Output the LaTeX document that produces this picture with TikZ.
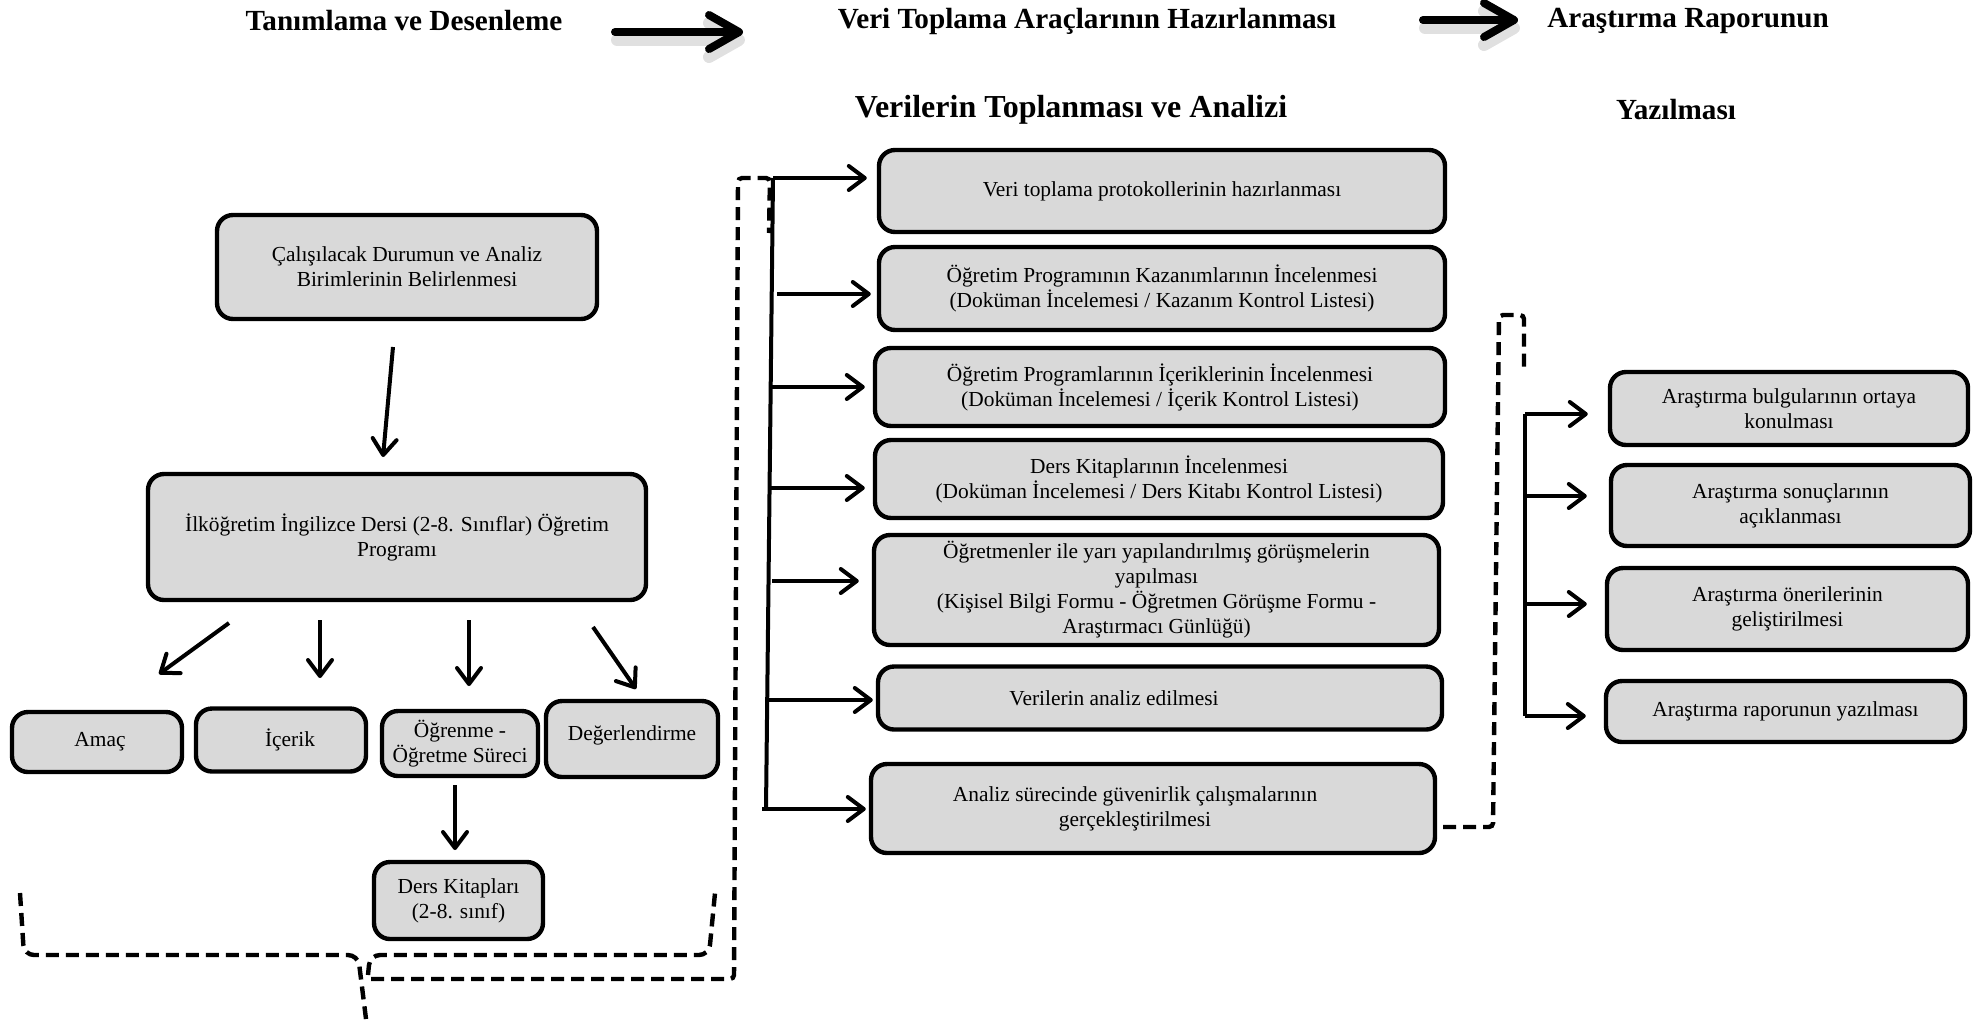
\documentclass[tikz,border=0pt]{standalone}
\usepackage{fontspec}
\setmainfont{Liberation Serif}
\usetikzlibrary{arrows.meta}
\definecolor{boxfill}{RGB}{217,217,217}
\begin{document}
\begin{tikzpicture}[x=0.5pt,y=-0.5pt,
  box/.style={draw=black, fill=boxfill, line width=2.2pt, rounded corners=8pt, align=center, inner sep=1pt, font=\fontsize{10.7}{12.5}\selectfont},
  hdr/.style={font=\fontsize{14.6}{17}\selectfont\bfseries, inner sep=0pt},
  link/.style={line width=2pt, -{Straight Barb[length=8pt,width=12pt,round]}},
  bigarrow/.style={line width=4pt, line cap=round, -{Straight Barb[length=15pt,width=17pt,round]}},
  bigshadow/.style={line width=6pt, line cap=round, draw=black!12, -{Straight Barb[length=15pt,width=17pt,round]}},
  dashline/.style={line width=2.2pt, dash pattern=on 6.5pt off 3.5pt},
  trunk/.style={line width=2pt}
]
\useasboundingbox (0,0) rectangle (1981,1019);

% ---------- headers ----------
\node[hdr] (h1) at (404,21) {Tanımlama ve Desenleme};
\node[hdr] (h2) at (1087,21) {Veri Toplama Araçlarının Hazırlanması};
\node[hdr] (h3) at (1688,21) {Araştırma Raporunun};
\node[hdr, font=\fontsize{16}{19}\selectfont\bfseries] (h4) at (1071,110) {Verilerin Toplanması ve Analizi};
\node[hdr] (h5) at (1676,110) {Yazılması};

\coordinate (ha1s) at (615,32);
\coordinate (ha1e) at (743,32);
\coordinate (ha2s) at (1423,20);
\coordinate (ha2e) at (1518,20);
\draw[bigshadow] ([xshift=1pt,yshift=-4pt]ha1s) -- ([xshift=1pt,yshift=-4pt]ha1e);
\draw[bigshadow] ([xshift=1pt,yshift=-4pt]ha2s) -- ([xshift=1pt,yshift=-4pt]ha2e);
\draw[bigarrow] (ha1s) -- (ha1e);
\draw[bigarrow] (ha2s) -- (ha2e);

% ---------- left column ----------
\node[box, minimum width=190pt, minimum height=52pt] (A) at (407,267)
  {Çalışılacak Durumun ve Analiz\\Birimlerinin Belirlenmesi};
\node[box, minimum width=249pt, minimum height=63pt] (B) at (397,537)
  {İlköğretim İngilizce Dersi (2-8. Sınıflar) Öğretim\\Programı};
\node[box, minimum width=85pt, minimum height=30pt] (amac) at (97,742)
  {\hspace*{3pt}Amaç};
\node[box, minimum width=85pt, minimum height=31.5pt] (icerik) at (281,740)
  {\hspace*{9pt}İçerik};
\node[box, minimum width=78pt, minimum height=32.5pt] (ogrenme) at (460,743.5)
  {Öğrenme -\\Öğretme Süreci};
\node[box, minimum width=86pt, minimum height=38pt] (deger) at (632,739)
  {\raisebox{6pt}{Değerlendirme}};
\node[box, minimum width=84.5pt, minimum height=38.5pt] (ders) at (458.5,900.5)
  {Ders Kitapları\\(2-8. sınıf)};

\coordinate (ab1) at (393,347);
\coordinate (ab2) at (383,457);
\draw[link] (ab1) -- (ab2);
\coordinate (b1) at (229,623);
\coordinate (b1e) at (159,674);
\coordinate (b2) at (320,620);
\coordinate (b2e) at (320,678);
\coordinate (b3) at (469,620);
\coordinate (b3e) at (469,686);
\coordinate (b4) at (593,627);
\coordinate (b4e) at (636,689);
\draw[link] (b1) -- (b1e);
\draw[link] (b2) -- (b2e);
\draw[link] (b3) -- (b3e);
\draw[link] (b4) -- (b4e);
\coordinate (od1) at (455,785);
\coordinate (od2) at (455,850);
\draw[link] (od1) -- (od2);

% brace under the left column
\draw[dashline, rounded corners=5pt] (20,893) -- (24,955) -- (358,955) -- (366,1019);
\draw[dashline, rounded corners=5pt] (368,975) -- (370,955) -- (709,955) -- (715,893);
\draw[dashline, rounded corners=2pt] (371,979) -- (734,979) -- (738,178) -- (770,178) -- (769,233);

% ---------- middle column ----------
\node[box, minimum width=283pt, minimum height=41pt] (M1) at (1162,191)
  {Veri toplama protokollerinin hazırlanması};
\node[box, minimum width=283pt, minimum height=41.5pt] (M2) at (1162,288.5)
  {Öğretim Programının Kazanımlarının İncelenmesi\\(Doküman İncelemesi / Kazanım Kontrol Listesi)};
\node[box, minimum width=285pt, minimum height=39pt] (M3) at (1160,387)
  {Öğretim Programlarının İçeriklerinin İncelenmesi\\(Doküman İncelemesi / İçerik Kontrol Listesi)};
\node[box, minimum width=284pt, minimum height=39pt] (M4) at (1159,479)
  {Ders Kitaplarının İncelenmesi\\(Doküman İncelemesi / Ders Kitabı Kontrol Listesi)};
\node[box, minimum width=282.5pt, minimum height=55pt, inner sep=0pt] (M5) at (1156.5,590)
  {Öğretmenler ile yarı yapılandırılmış görüşmelerin\\yapılması\\(Kişisel Bilgi Formu - Öğretmen Görüşme Formu -\\Araştırmacı Günlüğü)};
\node[box, minimum width=282pt, minimum height=31.5pt] (M6) at (1160,698)
  {Verilerin analiz edilmesi\hspace*{46pt}};
\node[box, minimum width=282pt, minimum height=44.5pt] (M7) at (1153,808.5)
  {\begin{tabular}{@{}c@{\hspace*{18pt}}}Analiz sürecinde güvenirlik çalışmalarının\\gerçekleştirilmesi\end{tabular}};

\coordinate (s1) at (773,178);
\coordinate (s2) at (777,294);
\coordinate (s3) at (772,387);
\coordinate (s4) at (771,488);
\coordinate (s5) at (772,581);
\coordinate (s6) at (768,700);
\coordinate (s7) at (762,809);
\coordinate (ttop) at (773,178);
\coordinate (tbot) at (766,809);
\draw[trunk] (ttop) -- (tbot);
\draw[link, shorten >=5pt] (s1) -- (s1 -| M1.west);
\draw[link, shorten >=3pt] (s2) -- (s2 -| M2.west);
\draw[link, shorten >=4pt] (s3) -- (s3 -| M3.west);
\draw[link, shorten >=4pt] (s4) -- (s4 -| M4.west);
\draw[link, shorten >=6.5pt] (s5) -- (s5 -| M5.west);
\draw[link, shorten >=1.5pt] (s6) -- (s6 -| M6.west);
\draw[link, shorten >=1.5pt] (s7) -- (s7 -| M7.west);

% ---------- right column ----------
\node[box, minimum width=179pt, minimum height=36.5pt] (R1) at (1789,408.5)
  {Araştırma bulgularının ortaya\\konulması};
\node[box, minimum width=179.5pt, minimum height=40.5pt] (R2) at (1790.5,505.5)
  {Araştırma sonuçlarının\\açıklanması};
\node[box, minimum width=180.5pt, minimum height=41pt] (R3) at (1787.5,609)
  {Araştırma önerilerinin\\geliştirilmesi};
\node[box, minimum width=179.5pt, minimum height=30.5pt] (R4) at (1785.5,711.5)
  {Araştırma raporunun yazılması};

\coordinate (d1) at (1443,827);
\draw[dashline, rounded corners=2pt] (d1) -- (1493,827) -- (1499,315) -- (1524,315) -- (1524,370);

\coordinate (r1) at (1525,414);
\coordinate (r2) at (1525,496);
\coordinate (r3) at (1525,604);
\coordinate (r4) at (1525,716);
\draw[trunk] (r1) -- (r4);
\draw[link, shorten >=10pt] (r1) -- (r1 -| R1.west);
\draw[link, shorten >=11pt] (r2) -- (r2 -| R2.west);
\draw[link, shorten >=9pt] (r3) -- (r3 -| R3.west);
\draw[link, shorten >=9pt] (r4) -- (r4 -| R4.west);
\end{tikzpicture}
\end{document}
